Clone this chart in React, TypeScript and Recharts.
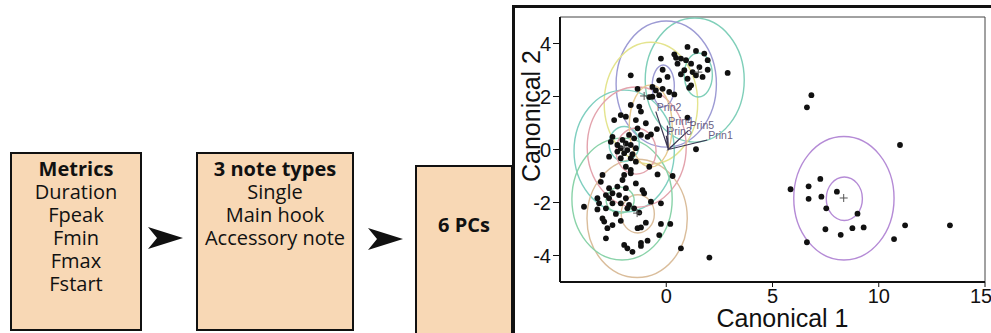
import React from "react";
import { ScatterChart, Scatter, XAxis, YAxis, ReferenceLine, Label } from "recharts";

const metricLines = ["Duration", "Fpeak", "Fmin", "Fmax", "Fstart"];
const noteTypes = ["Single", "Main hook", "Accessory note"];

const xTicks = [0, 5, 10, 15];
const yTicks = [-4, -2, 0, 2, 4];

// canonical scores [canonical 1, canonical 2]
const upperCluster = [
  [1.0, 3.87], [1.4, 3.72], [1.79, 3.62], [0.38, 3.59], [0.46, 3.46], [0.69, 3.43],
  [-0.25, 3.43], [0.93, 3.37], [0.53, 3.24], [1.17, 3.24], [1.95, 3.37], [1.56, 3.11],
  [1.95, 3.01], [2.89, 2.89], [-0.17, 3.01], [0.85, 2.99], [1.24, 2.92], [1.4, 2.8],
  [1.71, 2.74], [1.0, 2.67], [0.69, 2.84], [-1.67, 2.8], [0.06, 2.74], [-0.33, 2.61],
  [1.17, 2.42], [1.08, 2.33], [-0.65, 2.36], [-0.49, 2.23], [-0.17, 2.29], [0.14, 2.17],
  [0.38, 2.08], [-0.33, 2.05], [-1.35, 2.29], [-0.8, 1.98],
];
const middleCluster = [
  [-0.65, 1.99], [-1.67, 1.68], [-1.27, 1.62], [-1.19, 1.43], [-2.14, 1.3], [-1.9, 1.24],
  [-2.45, 1.11], [-1.43, 1.11], [-0.96, 0.99], [-1.35, 0.8], [1.0, 1.2], [-0.44, 0.77],
  [-0.72, 0.57], [-0.88, 0.48], [-1.19, 0.55], [-1.75, 0.55], [-1.51, 0.42], [-2.53, 0.48],
  [-2.61, 0.29], [-2.06, 0.36], [-2.3, 0.17], [-1.9, 0.23], [-1.67, 0.17], [-2.14, 0.05],
  [-1.83, -0.02], [-1.43, 0.05], [-2.3, -0.08], [-1.98, -0.14], [-1.59, -0.18], [-2.69, -0.27],
  [-2.14, -0.33], [-1.67, -0.33], [1.4, 0.01], [-1.43, -0.46], [-1.9, -0.65], [-1.67, -0.77],
  [-0.8, -0.65], [-0.41, -0.94], [-1.98, -0.96], [-3.0, -0.96], [0.3, -1.0],
];
const lowerCluster = [
  [-1.67, -0.9], [-3.08, -1.22], [-2.06, -1.15], [-1.43, -1.28], [-2.69, -1.46], [-2.3, -1.4],
  [-1.9, -1.46], [-1.12, -1.53], [-1.04, -1.65], [-2.84, -1.72], [-2.53, -1.65], [-2.22, -1.72],
  [-3.24, -1.84], [-2.69, -1.84], [-1.9, -1.84], [-3.16, -2.03], [-2.53, -2.03], [-2.14, -2.03],
  [-3.87, -2.16], [-1.75, -2.09], [-0.72, -1.97], [-0.25, -2.03], [-3.24, -2.26], [-2.84, -2.22],
  [-1.83, -2.22], [-1.51, -2.22], [-1.27, -2.38], [-2.37, -2.43], [-3.0, -2.6], [-2.92, -2.72],
  [-2.14, -2.69], [-2.53, -2.85], [-0.96, -2.76], [-0.25, -2.81], [0.19, -2.81], [-2.77, -2.97],
  [-1.35, -2.97], [-1.19, -2.94], [-0.33, -3.23], [-2.84, -3.35], [-0.88, -3.44], [-1.19, -3.52],
  [-1.98, -3.6], [-1.83, -3.73], [-1.19, -3.64], [-1.59, -3.86], [0.69, -3.73], [2.03, -4.08],
];
const rightCluster = [
  [6.83, 2.05], [6.62, 1.59], [11.0, 0.17], [7.25, -1.11], [5.85, -1.5], [6.7, -1.39],
  [6.7, -1.86], [7.3, -1.78], [8.03, -1.59], [7.53, -2.22], [9.0, -2.42], [7.49, -3.01],
  [8.21, -3.22], [8.76, -2.97], [9.29, -2.94], [11.24, -2.86], [13.35, -2.86], [10.72, -3.38],
  [6.62, -3.5],
];

// density ellipses: centre and half-axes in canonical units
const ellipseCentres = [
  [1.34, 2.62], [0.0, 2.47], [-0.72, 1.75], [-1.98, -0.06], [-1.39, 0.09], [-1.37, -2.6],
  [-2.08, -1.87], [8.36, -1.84],
  [1.51, 2.81], [-0.14, 2.4], [-1.98, 0.21], [-1.42, -0.06], [-0.73, 0.89], [-1.34, -2.43],
  [-2.17, -1.91], [8.38, -1.86],
];
const ellipseRadii = [
  [2.33, 2.34], [2.36, 2.38], [2.2, 2.3], [2.36, 2.3], [2.33, 2.27], [2.36, 2.23],
  [2.36, 2.3], [2.36, 2.33],
  [0.66, 0.83], [0.52, 0.79], [0.71, 0.66], [0.94, 0.87], [1.01, 1.55], [0.78, 0.72],
  [0.66, 0.49], [0.85, 0.82],
];
const ellipseColors = [
  "#7fcfb9", "#9d9bd4", "#e4e48e", "#7fcfc0", "#e3a3ad", "#dabd9b", "#8ad3a9", "#b58bd6",
  "#7fcfb9", "#9d9bd4", "#7fcfc0", "#e3a3ad", "#e7ca90", "#dabd9b", "#8ad3a9", "#b58bd6",
];

const groupMeans = [[1.51, 2.92], [-1.04, 2.02], [-1.98, 0.09], [-1.37, -2.4], [8.35, -1.83]];

const rayOrigin = [0.1, 0.0];
const rayNames = ["Prin2", "Prin4", "Prin3", "Prin5", "Prin1"];
const rayEnds = [[-0.49, 1.43], [0.05, 0.9], [0.0, 0.52], [1.05, 0.72], [1.93, 0.36]];

const toPoints = (arr: number[][]) => arr.map(([x, y]) => ({ x, y }));
const allScores = toPoints([...upperCluster, ...middleCluster, ...lowerCluster, ...rightCluster]);
const rayData = rayEnds.flatMap(([x, y]) => [
  { x: rayOrigin[0], y: rayOrigin[1] },
  { x, y },
]);
const rayLabels = rayEnds.map(([x, y], i) => ({ x, y, label: rayNames[i] }));

const Nothing = () => <g />;

const Dot = (p: any) => <circle cx={p.cx} cy={p.cy} r={2.9} fill="#111" />;

const Plus = (p: any) => (
  <g stroke="#555" strokeWidth={1}>
    <line x1={p.cx - 4} y1={p.cy} x2={p.cx + 4} y2={p.cy} />
    <line x1={p.cx} y1={p.cy - 4} x2={p.cx} y2={p.cy + 4} />
  </g>
);

const RayLabel = (p: any) => (
  <text x={p.cx + 1} y={p.cy - 1} fontSize={10.5} fill="#6a5f86" fontFamily="Liberation Sans">
    {p.payload.label}
  </text>
);

const makeEllipse = (color: string) => (props: any) => {
  const [c, k] = props.points;
  return (
    <ellipse
      cx={c.x}
      cy={c.y}
      rx={Math.abs(k.x - c.x)}
      ry={Math.abs(k.y - c.y)}
      fill="none"
      stroke={color}
      strokeWidth={1.4}
    />
  );
};

const box: React.CSSProperties = {
  position: "absolute",
  boxSizing: "border-box",
  border: "2px solid #111",
  background: "#f8d8b5",
  fontFamily: "Open Sans",
  fontSize: 20,
  lineHeight: "23px",
  textAlign: "center",
  color: "#111",
};

const Arrow = ({ left, top }: { left: number; top: number }) => (
  <svg style={{ position: "absolute", left, top }} width={36} height={24}>
    <polygon points="0,0 35,11 0,22 9,11" fill="#111" />
  </svg>
);

export default function App() {
  return (
    <div style={{ position: "absolute", left: 0, top: 0, width: 991, height: 333, overflow: "hidden", background: "#fff" }}>
      <div style={{ ...box, left: 10, top: 152, width: 132, height: 179, paddingTop: 3 }}>
        <div style={{ fontWeight: 700 }}>Metrics</div>
        {metricLines.map((t) => (
          <div key={t}>{t}</div>
        ))}
      </div>
      <Arrow left={148} top={227} />
      <div style={{ ...box, left: 196, top: 152, width: 158, height: 179, paddingTop: 3 }}>
        <div style={{ fontWeight: 700 }}>3 note types</div>
        {noteTypes.map((t) => (
          <div key={t}>{t}</div>
        ))}
      </div>
      <Arrow left={368} top={228} />
      <div style={{ ...box, left: 415, top: 165, width: 98, height: 180, paddingTop: 46 }}>
        <div style={{ fontWeight: 700 }}>6 PCs</div>
      </div>
      <div
        style={{
          position: "absolute",
          left: 512,
          top: 5,
          width: 500,
          height: 340,
          borderTop: "3px solid #111",
          borderLeft: "3px solid #111",
        }}
      />
      <div style={{ position: "absolute", left: 0, top: 0 }}>
        <ScatterChart width={991} height={333} margin={{ top: 17, right: 6, bottom: 0, left: 500 }}>
          <XAxis
            dataKey="x"
            type="number"
            domain={[-5, 15]}
            ticks={xTicks}
            height={51}
            tickSize={5}
            tickMargin={2}
            axisLine={{ stroke: "#111", strokeWidth: 2 }}
            tickLine={{ stroke: "#111" }}
            tick={{ fontSize: 20, fill: "#111", fontFamily: "Liberation Sans" }}
          >
            <Label
              content={(p: any) => (
                <text
                  x={p.viewBox.x + p.viewBox.width / 2 + 10}
                  y={p.viewBox.y + 45}
                  textAnchor="middle"
                  fontSize={25}
                  fontFamily="Liberation Sans"
                  fill="#111"
                >
                  Canonical 1
                </text>
              )}
            />
          </XAxis>
          <YAxis
            dataKey="y"
            type="number"
            domain={[-5, 5]}
            ticks={yTicks}
            width={60}
            tickSize={7}
            tickMargin={2}
            axisLine={{ stroke: "#111", strokeWidth: 2 }}
            tickLine={{ stroke: "#111" }}
            tick={{ fontSize: 20, fill: "#111", fontFamily: "Liberation Sans" }}
          >
            <Label
              content={(p: any) => {
                const x = p.viewBox.x + 31;
                const y = p.viewBox.y + 99;
                return (
                  <text
                    x={x}
                    y={y}
                    transform={`rotate(-90 ${x} ${y})`}
                    textAnchor="middle"
                    dominantBaseline="central"
                    fontSize={25}
                    fontFamily="Liberation Sans"
                    fill="#111"
                  >
                    Canonical 2
                  </text>
                );
              }}
            />
          </YAxis>
          <ReferenceLine y={5} stroke="#444" strokeWidth={1} />
          <ReferenceLine x={15} stroke="#444" strokeWidth={1} />
          {ellipseCentres.map(([cx, cy], i) => (
            <Scatter
              key={"e" + i}
              data={[
                { x: cx, y: cy },
                { x: cx + ellipseRadii[i][0], y: cy + ellipseRadii[i][1] },
              ]}
              shape={Nothing}
              line={makeEllipse(ellipseColors[i])}
              isAnimationActive={false}
            />
          ))}
          <Scatter
            data={rayData}
            shape={Nothing}
            line={{ stroke: "#3b3652", strokeWidth: 1.2 }}
            isAnimationActive={false}
          />
          <Scatter data={allScores} shape={Dot} isAnimationActive={false} />
          <Scatter data={toPoints(groupMeans)} shape={Plus} isAnimationActive={false} />
          <Scatter data={rayLabels} shape={RayLabel} isAnimationActive={false} />
        </ScatterChart>
      </div>
    </div>
  );
}
